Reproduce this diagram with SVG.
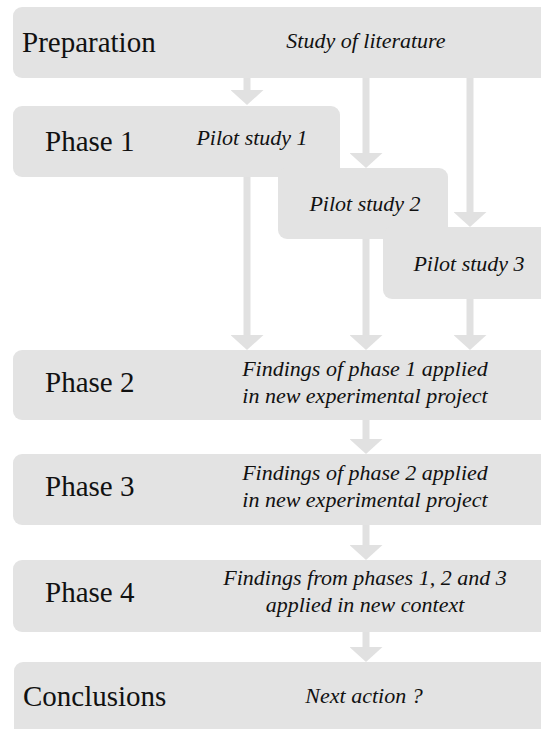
<svg xmlns="http://www.w3.org/2000/svg" width="541" height="729" viewBox="0 0 541 729">
<style>
.box{fill:#e3e3e3}
text{font-family:'Liberation Serif','Times New Roman',serif;fill:#111}
.lab{font-size:29px}
.it{font-size:22px;font-style:italic;text-anchor:middle}
.con line{stroke:#e1e1e1;stroke-width:7;fill:none}
</style>
<defs>
<marker id="ah" markerUnits="userSpaceOnUse" markerWidth="15" markerHeight="33" viewBox="0 0 15 33" refX="1" refY="16.5" orient="auto">
<path d="M0,0 L15,16.5 L0,33 Z" fill="#e1e1e1"/>
</marker>
</defs>
<rect width="541" height="729" fill="#ffffff"/>
<g class="con" id="connectors">
<line x1="247" y1="77" x2="247" y2="91" marker-end="url(#ah)"/>
<line x1="366" y1="77" x2="366" y2="154" marker-end="url(#ah)"/>
<line x1="470" y1="77" x2="470" y2="213" marker-end="url(#ah)"/>
<line x1="247" y1="176" x2="247" y2="336" marker-end="url(#ah)"/>
<line x1="366" y1="238" x2="366" y2="336" marker-end="url(#ah)"/>
<line x1="470" y1="298" x2="470" y2="336" marker-end="url(#ah)"/>
<line x1="366" y1="419" x2="366" y2="440" marker-end="url(#ah)"/>
<line x1="366" y1="524" x2="366" y2="546" marker-end="url(#ah)"/>
<line x1="366" y1="631" x2="366" y2="648" marker-end="url(#ah)"/>
</g>
<g id="preparation">
<rect class="box" x="13" y="7" width="548" height="71" rx="9"/>
<text class="lab" x="22" y="52">Preparation</text>
<text class="it" x="366" y="48">Study of literature</text>
</g>
<g id="phase1">
<rect class="box" x="13" y="106" width="327" height="71" rx="9"/>
<text class="lab" x="45" y="151">Phase 1</text>
<text class="it" x="252" y="145">Pilot study 1</text>
</g>
<g id="pilot2">
<rect class="box" x="278" y="168" width="170" height="71" rx="9"/>
<text class="it" x="365" y="211">Pilot study 2</text>
</g>
<g id="pilot3">
<rect class="box" x="383" y="227" width="178" height="72" rx="9"/>
<text class="it" x="469" y="271">Pilot study 3</text>
</g>
<g id="phase2">
<rect class="box" x="13" y="350" width="548" height="70" rx="9"/>
<text class="lab" x="45" y="392">Phase 2</text>
<text class="it" x="365" y="376">Findings of phase 1 applied</text>
<text class="it" x="365" y="403">in new experimental project</text>
</g>
<g id="phase3">
<rect class="box" x="13" y="454" width="548" height="71" rx="9"/>
<text class="lab" x="45" y="496">Phase 3</text>
<text class="it" x="365" y="480">Findings of phase 2 applied</text>
<text class="it" x="365" y="507">in new experimental project</text>
</g>
<g id="phase4">
<rect class="box" x="13" y="560" width="548" height="72" rx="9"/>
<text class="lab" x="45" y="602">Phase 4</text>
<text class="it" x="365" y="585">Findings from phases 1, 2 and 3</text>
<text class="it" x="365" y="612">applied in new context</text>
</g>
<g id="conclusions">
<rect class="box" x="14" y="662" width="547" height="80" rx="9"/>
<text class="lab" x="23" y="706">Conclusions</text>
<text class="it" x="364" y="703">Next action ?</text>
</g>
</svg>
